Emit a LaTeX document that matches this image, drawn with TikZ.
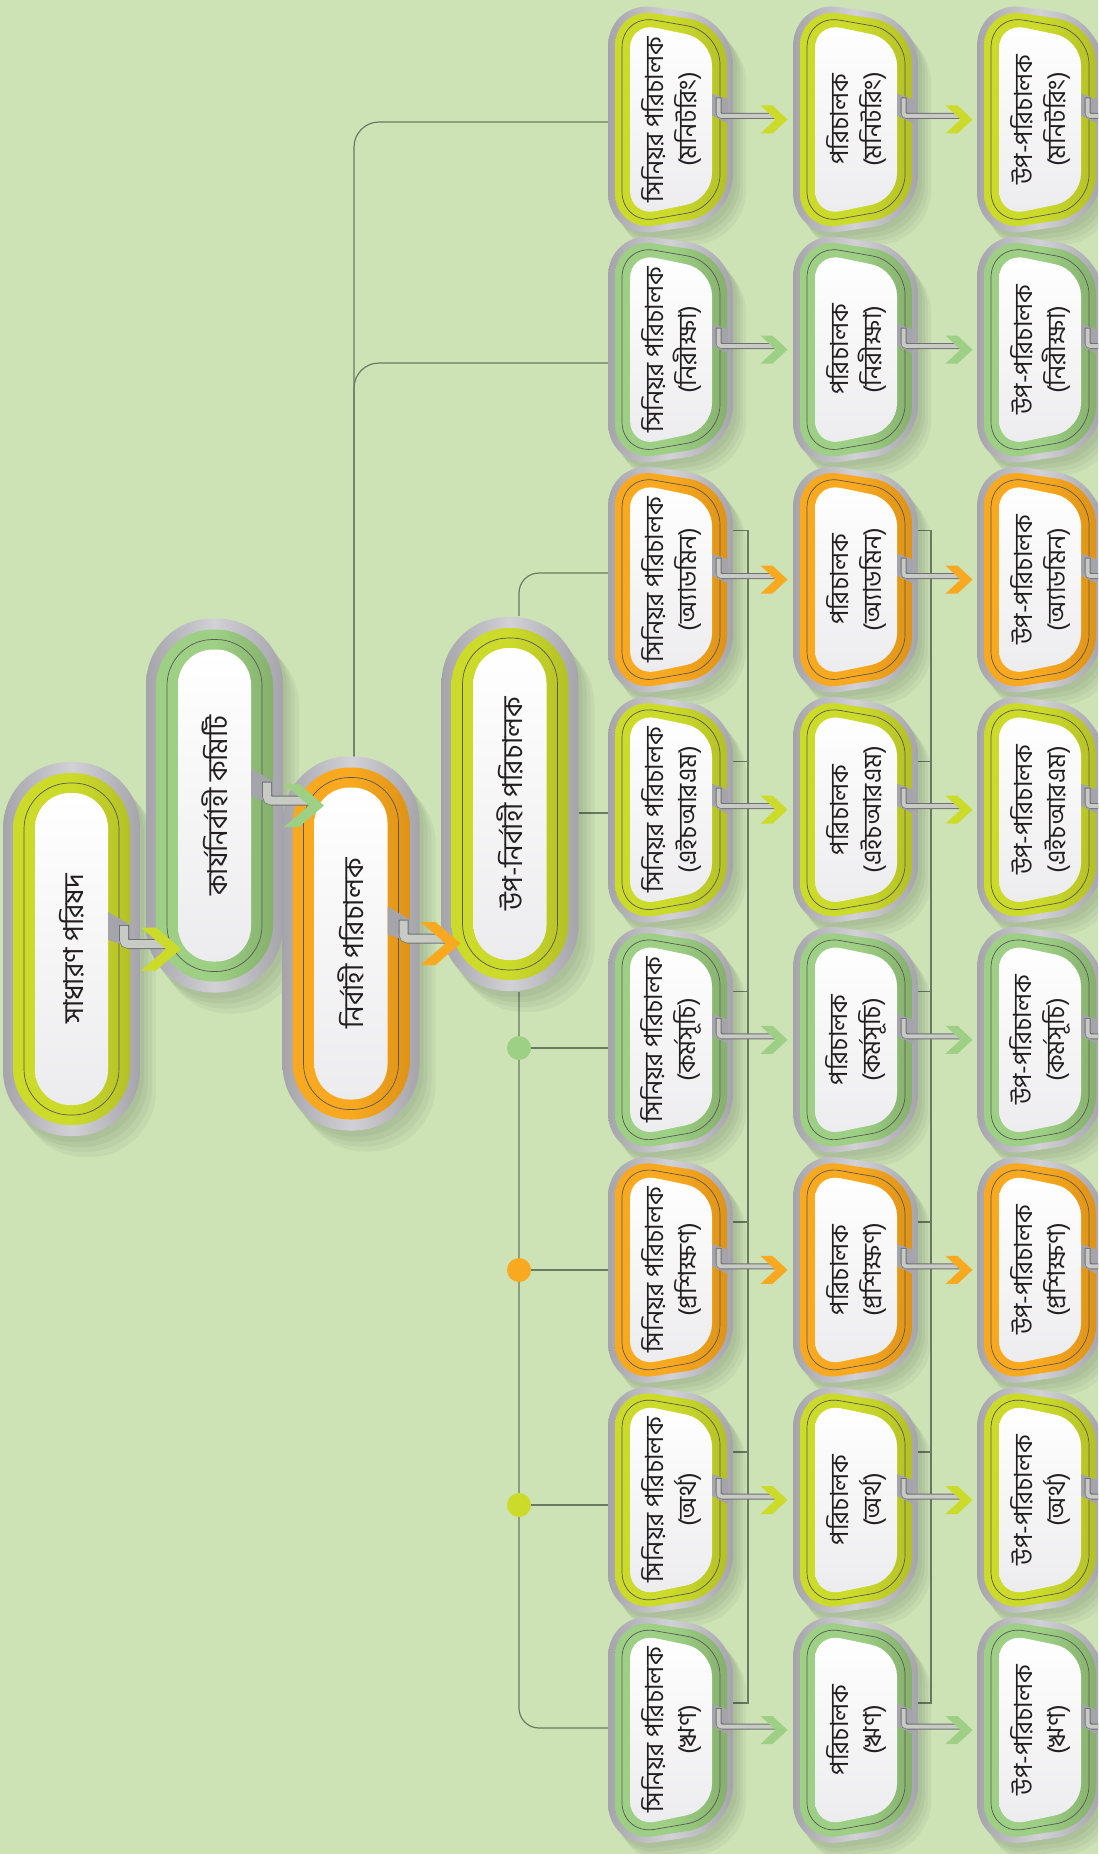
\documentclass[tikz,border=0pt]{standalone}
\usepackage{fontspec}
\newfontfamily\bn[Script=Bengali]{Hind Siliguri}
\usetikzlibrary{calc}
\definecolor{bg}{HTML}{CDE3B6}
\definecolor{ygL}{HTML}{CCDA2A}
\definecolor{ygD}{HTML}{B4C126}
\definecolor{grL}{HTML}{9DD084}
\definecolor{grD}{HTML}{85B06D}
\definecolor{orL}{HTML}{F9A91F}
\definecolor{orD}{HTML}{DE9318}
\definecolor{gyL}{HTML}{D2D1D6}
\definecolor{gyD}{HTML}{A5A4AA}
\definecolor{wtB}{HTML}{ECECEE}
\definecolor{lnC}{HTML}{6A7A63}
\definecolor{ink}{HTML}{231F20}
\definecolor{barL}{HTML}{C8CBC4}
\definecolor{barD}{HTML}{707076}
\tikzset{
  boxtxt/.style={rotate=90,align=center,text=ink,inner sep=0pt,font=\bn\fontsize{25}{33}\selectfont},
  pilltxt/.style={rotate=90,text=ink,inner sep=0pt,font=\bn\fontsize{27.5}{30}\selectfont},
  conn/.style={draw=lnC,line width=1.2pt},
  dotn/.style={circle,minimum size=24pt,inner sep=0pt,draw=none}
}
% box: #1 coordinate name, #2 colour prefix, #3 text
\newcommand\dbox[3]{%
\begin{scope}[shift={(#1)}]
\foreach \dx/\dy in {4/5,7/9,10/13,13/17}{
 \fill[black,opacity=0.04,rounded corners=46pt] (-63+\dx,-119+\dy) -- (62+\dx,-101+\dy) -- (62+\dx,101+\dy) -- (-63+\dx,119+\dy) -- cycle;}
\shade[rounded corners=46pt,left color=gyD,right color=gyD,middle color=gyL] (-63,-119) -- (62,-101) -- (62,101) -- (-63,119) -- cycle;
\shade[rounded corners=39pt,left color=#2L,right color=#2D,middle color=#2L] (-56,-112) -- (56,-95) -- (56,95) -- (-56,112) -- cycle;
\draw[line width=0.7pt,ink!75,rounded corners=33pt] (-49,-105) -- (49,-88) -- (49,88) -- (-49,105) -- cycle;
\shade[rounded corners=26pt,top color=white,bottom color=wtB] (-41,-97) -- (41,-80) -- (41,80) -- (-41,97) -- cycle;
\fill[gyD] (41,-26) -- (57,-20) -- (57,4) -- (41,-4) -- cycle;
\draw[barD,line width=6pt,rounded corners=4pt] (47.5,-22) -- (47.5,-3.5) -- (104,-3.5);
\draw[barL,line width=4pt,rounded corners=3pt] (47.5,-21) -- (47.5,-3.5) -- (104.5,-3.5);
\fill[#2L] (89.5,-14) -- (101.5,-14) -- (116.5,0) -- (101.5,14) -- (89.5,14) -- (104.5,0) -- cycle;
\end{scope}
\node[boxtxt] (#1-t) at (#1) {#3};
}
% pill: #1 coordinate name, #2 colour prefix, #3 text
\newcommand\pill[3]{%
\begin{scope}[shift={(#1)}]
\foreach \dx/\dy in {4/6,8/11,12/16,16/21}{
 \fill[black,opacity=0.04,rounded corners=66pt] (-68.5+\dx,-187+\dy) rectangle (68.5+\dx,187+\dy);}
\shade[rounded corners=66pt,left color=gyD,right color=gyD,middle color=gyL] (-68.5,-187) rectangle (68.5,187);
\shade[rounded corners=57pt,left color=#2L,right color=#2D,middle color=#2L] (-58.5,-176) rectangle (58.5,176);
\draw[line width=0.7pt,ink!75,rounded corners=46pt] (-47.5,-166) rectangle (47.5,166);
\shade[rounded corners=35pt,top color=white,bottom color=wtB] (-36.5,-156) rectangle (36.5,156);
\end{scope}
\node[pilltxt] (#1-t) at (#1) {#3};
}
% pill arrow: #1 pill coordinate, #2 colour prefix
\newcommand\parrow[2]{%
\begin{scope}[shift={(#1)}]
\fill[gyD] (36.5,-37) -- (59,-24) -- (59,-2) -- (36.5,-9) -- cycle;
\draw[barD,line width=10pt,rounded corners=5pt] (52.5,-24) -- (52.5,-5) -- (98,-5);
\draw[barL,line width=8pt,rounded corners=4pt] (52.5,-23) -- (52.5,-5) -- (98.5,-5);
\fill[#2L] (69.5,-21.5) -- (84.5,-21.5) -- (109.5,0) -- (84.5,21.5) -- (69.5,21.5) -- (94.5,0) -- cycle;
\end{scope}}
\begin{document}
\begin{tikzpicture}[x=1pt,y=-1pt]
\useasboundingbox (0,0) rectangle (1098,1854);
\clip (0,0) rectangle (1098,1854);
\fill[bg] (0,0) rectangle (1098,1854);
% coordinates
\coordinate (p1) at (71.5,949);
\coordinate (p2) at (214.5,805.5);
\coordinate (p3) at (351,943.5);
\coordinate (p4) at (510,804);
\foreach \r/\y in {1/119.5,2/349.6,3/579.6,4/809.7,5/1039.8,6/1269.9,7/1500,8/1730}{
  \coordinate (r\r a) at (671,\y);
  \coordinate (r\r b) at (856,\y);
  \coordinate (r\r c) at (1040,\y);
}
\coordinate (c5) at ($(p4)+(9,244)$);
\coordinate (c6) at ($(p4)+(9,466)$);
\coordinate (c7) at ($(p4)+(9,701)$);
% connectors
\draw[conn,rounded corners=25pt] ($(p3)+(3,-187)$) |- ($(r1a)+(-63,2.5)$);
\draw[conn,rounded corners=25pt] ($(r2a)+(-63,13.4)$) -| ($(p3)+(3,-187)$);
\draw[conn,rounded corners=20pt] ($(p4)+(9,-188)$) |- ($(r3a)+(-63,-6.6)$);
\draw[conn] ($(p4)+(68.5,9)$) -- ($(r4a)+(-63,3.3)$);
\draw[conn,rounded corners=20pt] ($(p4)+(9,188)$) |- ($(r8a)+(-63,-2)$);
\draw[conn] (c5) -- ($(r5a)+(-63,8.2)$);
\draw[conn] (c6) -- ($(r6a)+(-63,0.1)$);
\draw[conn] (c7) -- ($(r7a)+(-63,5)$);
% buses
\draw[conn] ($(r3a)+(62,-49)$) -| ($(r8a)+(77,-27)$) -- ($(r8a)+(62,-27)$);
\draw[conn] ($(r3b)+(62,-49)$) -| ($(r8b)+(75,-27)$) -- ($(r8b)+(62,-27)$);
\foreach \r in {4,5,6,7}{
  \draw[conn] ($(r\r a)+(62,-48)$) -- ($(r\r a)+(77,-48)$);
  \draw[conn] ($(r\r b)+(62,-48)$) -- ($(r\r b)+(75,-48)$);
}
% dots
\node[dotn,fill=grL] (d5) at (c5) {};
\node[dotn,fill=orL] (d6) at (c6) {};
\node[dotn,fill=ygL] (d7) at (c7) {};
% pills
\pill{p1}{yg}{সাধারণ পরিষদ}
\pill{p2}{gr}{কার্যনির্বাহী কমিটি}
\pill{p3}{or}{নির্বাহী পরিচালক}
\pill{p4}{yg}{উপ-নির্বাহী পরিচালক}
\parrow{p1}{yg}
\parrow{p2}{gr}
\parrow{p3}{or}
% grid of boxes
\foreach \r/\c/\w in {1/yg/মনিটরিং,2/gr/নিরীক্ষা,3/or/অ্যাডমিন,4/yg/এইচআরএম,5/gr/কর্মসূচি,6/or/প্রশিক্ষণ,7/yg/অর্থ,8/gr/ঋণ}{
  \dbox{r\r a}{\c}{সিনিয়র পরিচালক\\(\w)}
  \dbox{r\r b}{\c}{পরিচালক\\(\w)}
  \dbox{r\r c}{\c}{উপ-পরিচালক\\(\w)}
}
\end{tikzpicture}
\end{document}
